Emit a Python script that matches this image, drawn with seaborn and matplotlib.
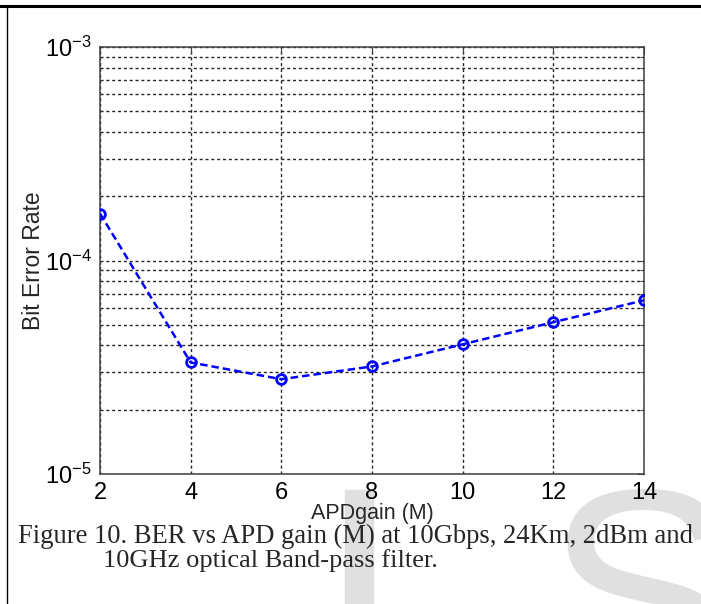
import matplotlib
matplotlib.use("Agg")
import matplotlib.pyplot as plt
import matplotlib.patches as mpatches
import matplotlib.lines as mlines
from matplotlib.ticker import LogLocator, NullFormatter, FixedLocator
import seaborn as sns
import pandas as pd

# ---- data ----
apd_gain = [2, 4, 6, 8, 10, 12, 14]
ber = [1.66e-4, 3.33e-5, 2.78e-5, 3.19e-5, 4.05e-5, 5.14e-5, 6.51e-5]
x_ticks = [2, 4, 6, 8, 10, 12, 14]
y_ticks = [1e-5, 1e-4, 1e-3]
x_label = "APDgain (M)"
y_label = "Bit Error Rate"
caption1 = "Figure 10. BER vs APD gain (M) at 10Gbps, 24Km, 2dBm and"
caption2 = "10GHz optical Band-pass filter."

sns.set_style("white")
plt.rcParams['font.family'] = ['Liberation Sans', 'DejaVu Sans']
plt.rcParams['mathtext.fontset'] = 'custom'
plt.rcParams['mathtext.rm'] = 'Liberation Sans'
plt.rcParams['mathtext.it'] = 'Liberation Sans:italic'
plt.rcParams['mathtext.bf'] = 'Liberation Sans:bold'
plt.rcParams['axes.unicode_minus'] = False

W, H = 701, 604
fig = plt.figure(figsize=(W / 100, H / 100), dpi=100)
fig.patch.set_facecolor('white')

def fx(px):
    return px / W

def fy(py):
    return 1 - py / H

# watermark (light gray) behind everything
wm_color = '#e0e0e0'
fig.patches.append(mpatches.Rectangle((fx(345), fy(604)), fx(373) - fx(345), fy(490) - fy(604),
                                      transform=fig.transFigure, color=wm_color, zorder=-10))
fig.text(fx(545), fy(482), "S", fontsize=210, color=wm_color, family='Liberation Sans',
         ha='left', va='top', zorder=-10)

# page borders
fig.add_artist(mlines.Line2D([0, 1], [fy(5.5), fy(5.5)], transform=fig.transFigure,
                             color='black', linewidth=2.2))
fig.add_artist(mlines.Line2D([fx(7), fx(7)], [fy(5.5), 0], transform=fig.transFigure,
                             color='black', linewidth=1.0))

ax = fig.add_axes([fx(100), fy(474), fx(644) - fx(100), fy(47) - fy(474)])
ax.set_facecolor('none')
ax.set_zorder(1)

df = pd.DataFrame({"gain": apd_gain, "ber": ber})
sns.lineplot(data=df, x="gain", y="ber", ax=ax, color='blue', linestyle='--',
             linewidth=1.8, marker='o', markersize=7, markerfacecolor='none',
             markeredgecolor='blue', markeredgewidth=2.0)
for ln in ax.get_lines():
    ln.set_dashes([3, 1.6])
    ln.set_zorder(5)

ax.set_yscale('log')
ax.set_xlim(2, 14)
ax.set_ylim(1e-5, 1e-3)
ax.xaxis.set_major_locator(FixedLocator(x_ticks))
ax.yaxis.set_major_locator(FixedLocator(y_ticks))
ax.yaxis.set_minor_locator(LogLocator(base=10, subs=range(2, 10)))
ax.yaxis.set_minor_formatter(NullFormatter())

grid_kw = dict(color='#262626', linestyle=(0, (2.2, 2.0)), linewidth=1.0)
ax.grid(True, which='major', axis='both', **grid_kw)
ax.grid(True, which='minor', axis='y', **grid_kw)
ax.set_axisbelow(True)

for s in ax.spines.values():
    s.set_color('#404040')
    s.set_linewidth(1.1)

ax.tick_params(which='both', direction='in', top=True, right=True, colors='#404040',
               labelcolor='black', labelsize=17)
ax.tick_params(which='major', length=5, width=0.8, pad=6)
ax.tick_params(which='minor', length=3, width=0.8)

ax.set_xlabel(x_label, fontsize=15.5, labelpad=-1)
ax.set_ylabel(y_label, fontsize=16.5, labelpad=0)

fig.text(fx(18), fy(543), caption1, fontsize=19.2, family=['Liberation Serif', 'DejaVu Serif'],
         ha='left', va='baseline', zorder=5)
fig.text(fx(103), fy(567), caption2, fontsize=19, family=['Liberation Serif', 'DejaVu Serif'],
         ha='left', va='baseline', zorder=5)

fig.savefig("out.png", dpi=100)
